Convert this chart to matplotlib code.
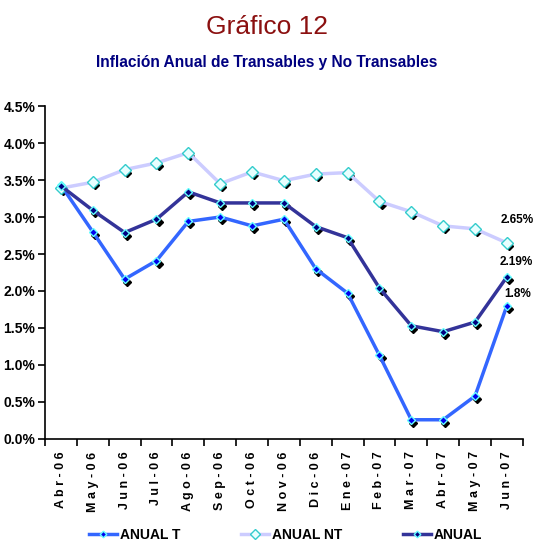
import numpy as np
import matplotlib
matplotlib.use('Agg')
from matplotlib import pyplot as plt
from matplotlib import transforms
from matplotlib.ticker import FixedLocator, FuncFormatter

plt.rcParams['font.family'] = ['Liberation Sans', 'DejaVu Sans']

meses = ['Abr-06', 'May-06', 'Jun-06', 'Jul-06', 'Ago-06', 'Sep-06', 'Oct-06', 'Nov-06',
         'Dic-06', 'Ene-07', 'Feb-07', 'Mar-07', 'Abr-07', 'May-07', 'Jun-07']

anual_t = [3.43, 2.80, 2.16, 2.41, 2.94, 3.00, 2.88, 2.97, 2.30, 1.97, 1.13, 0.26, 0.26, 0.58, 1.80]
anual_nt = [3.39, 3.47, 3.64, 3.73, 3.87, 3.45, 3.61, 3.49, 3.58, 3.60, 3.21, 3.07, 2.88, 2.84, 2.65]
anual = [3.42, 3.09, 2.79, 2.97, 3.34, 3.19, 3.19, 3.19, 2.87, 2.72, 2.04, 1.53, 1.45, 1.58, 2.19]

etiquetas = ['1.8%', '2.65%', '2.19%']

fig = plt.figure(figsize=(5.34, 5.45), dpi=100)
ax = fig.add_axes([0.0843, 0.1945, 0.8947, 0.611])

x = np.arange(len(meses))

# sombra negra de los marcadores (desplazada abajo a la derecha)
shadow = transforms.offset_copy(ax.transData, fig=fig, x=1.5, y=-2.2, units='points')

series = [
    (anual_t, '#3366FF', '#0000EE', '#66FFFF', 'ANUAL T', 4.2),
    (anual_nt, '#CCCCFF', '#E8FFFF', '#33CCCC', 'ANUAL NT', 5.8),
    (anual, '#333399', '#000080', '#66FFFF', 'ANUAL', 4.2),
]

for vals, lc, fc, ec, lab, ms in series:
    ax.plot(x, vals, ls='none', marker='D', ms=3.8, color='black', transform=shadow, zorder=2)
    ax.plot(x, vals, color=lc, lw=2.5, marker='D', ms=ms, mfc=fc, mec=ec, mew=1.0,
            label=lab, zorder=3)

# etiquetas del último dato
ax.text(x[-1] + 0.35, 1.96, etiquetas[0], fontsize=8.5, fontweight='bold', ha='center', va='center')
ax.text(x[-1] + 0.33, 2.96, etiquetas[1], fontsize=8.5, fontweight='bold', ha='center', va='center')
ax.text(x[-1] + 0.31, 2.39, etiquetas[2], fontsize=8.5, fontweight='bold', ha='center', va='center')

ax.set_xlim(-0.5, len(meses) - 0.5)
ax.set_ylim(0, 4.5)
ax.set_yticks(np.arange(0, 4.51, 0.5))
ax.yaxis.set_major_formatter(FuncFormatter(lambda v, p: '%.1f%%' % v))
ax.xaxis.set_major_locator(FixedLocator(np.arange(-0.5, len(meses), 1.0)))
ax.xaxis.set_minor_locator(FixedLocator(x))
ax.set_xticklabels([''] * 16)
ax.set_xticklabels([' '.join(m) for m in meses], minor=True, rotation=90, fontsize=9, fontweight='bold')
ax.tick_params(axis='x', which='minor', length=0, pad=9)
ax.tick_params(axis='x', which='major', length=5, direction='out', width=1.2)
ax.tick_params(axis='y', length=5, direction='out', width=1.2, labelsize=10, pad=2)
for t in ax.get_yticklabels():
    t.set_fontweight('bold')

for s in ['top', 'right']:
    ax.spines[s].set_visible(False)
for s in ['left', 'bottom']:
    ax.spines[s].set_linewidth(1.2)

fig.text(0.5, 0.951, 'Gráfico 12', ha='center', va='center', fontsize=19, color='#8B1010')
fig.text(0.5, 0.886, 'Inflación Anual de Transables y No Transables', ha='center', va='center',
         fontsize=11.2, fontweight='bold', color='#000080')

fig.legend(loc='center', bbox_to_anchor=(0.535, 0.018), ncol=3, frameon=False,
           prop={'weight': 'bold', 'size': 10}, handlelength=2.0, handletextpad=0.2,
           columnspacing=4.4, markerscale=0.8)

fig.savefig('out.png', dpi=100)
